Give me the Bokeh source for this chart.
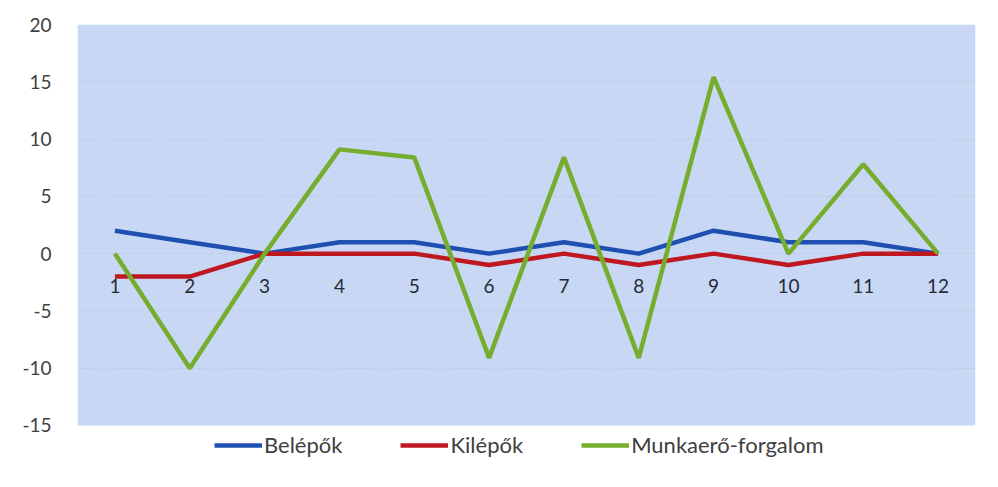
from bokeh.plotting import figure
from bokeh.models import (ColumnDataSource, Legend, LegendItem, Range1d, FixedTicker,
                          CustomJSTickFormatter, BoxAnnotation)
from bokeh.core.properties import value
from bokeh.embed import file_html
from bokeh.resources import INLINE

months = [1, 2, 3, 4, 5, 6, 7, 8, 9, 10, 11, 12]
month_labels = ["1", "2", "3", "4", "5", "6", "7", "8", "9", "10", "11", "12"]
belepok = [2, 1, 0, 1, 1, 0, 1, 0, 2, 1, 1, 0]
kilepok = [-2, -2, 0, 0, 0, -1, 0, -1, 0, -1, 0, 0]
munkaero = [0, -10, 0, 9.1, 8.4, -9.1, 8.4, -9.1, 15.4, 0, 7.8, 0]
y_ticks = [-15, -10, -5, 0, 5, 10, 15, 20]
y_min, y_max = -15, 20

FONT = "Lato"

# frame extends below y_min to host the legend; the blue plot area is a box over [y_min, y_max]
p = figure(width=998, height=480, output_backend="svg", toolbar_location=None, x_axis_location=None,
           x_range=Range1d(0.5, 12.5), y_range=Range1d(-18.93, y_max),
           min_border_left=77, min_border_right=23, min_border_top=24, min_border_bottom=10)
p.background_fill_color = "white"
p.border_fill_color = "white"
p.outline_line_color = None

p.add_layout(BoxAnnotation(bottom=y_min, top=y_max, fill_color="#c8d8f4", fill_alpha=1.0,
                           line_color=None, level="image"))

p.xgrid.visible = False
p.ygrid.ticker = FixedTicker(ticks=y_ticks[1:-1])
p.ygrid.grid_line_color = "#b4c2dc"
p.ygrid.grid_line_alpha = 0.6
p.ygrid.grid_line_dash = "4 3"
p.yaxis.ticker = FixedTicker(ticks=y_ticks)
p.yaxis.formatter = CustomJSTickFormatter(code="return tick.toString();")
p.yaxis.axis_line_color = None
p.yaxis.major_tick_line_color = None
p.yaxis.minor_tick_line_color = None
p.yaxis.major_label_text_font = FONT
p.yaxis.major_label_text_font_size = "19px"
p.yaxis.major_label_text_color = "#404040"
p.yaxis.major_label_standoff = 20

src = ColumnDataSource(dict(x=months, lab=month_labels, b=belepok, k=kilepok, m=munkaero,
                            zero=[0] * len(months)))

rb = p.line("x", "b", source=src, line_color="#1f4fb0", line_width=4.5)
rk = p.line("x", "k", source=src, line_color="#c01820", line_width=4.5)
rm = p.line("x", "m", source=src, line_color="#76ad2e", line_width=4.5)

p.text("x", "zero", text="lab", source=src, text_font=value(FONT), text_font_size="19px",
       text_color="#262a36", text_align="center", text_baseline="middle", y_offset=32)

legend = Legend(items=[LegendItem(label="Belépők", renderers=[rb]),
                       LegendItem(label="Kilépők", renderers=[rk]),
                       LegendItem(label="Munkaerő-forgalom", renderers=[rm])],
                orientation="horizontal", location=(137, 12))
legend.label_text_font = FONT
legend.label_text_font_size = "22px"
legend.label_text_color = "#404040"
legend.glyph_width = 48
legend.label_standoff = 2
legend.spacing = 58
legend.border_line_color = None
legend.background_fill_alpha = 0
legend.margin = 0
legend.padding = 4
p.add_layout(legend, "center")

open("out.html", "w").write(file_html(p, INLINE))
